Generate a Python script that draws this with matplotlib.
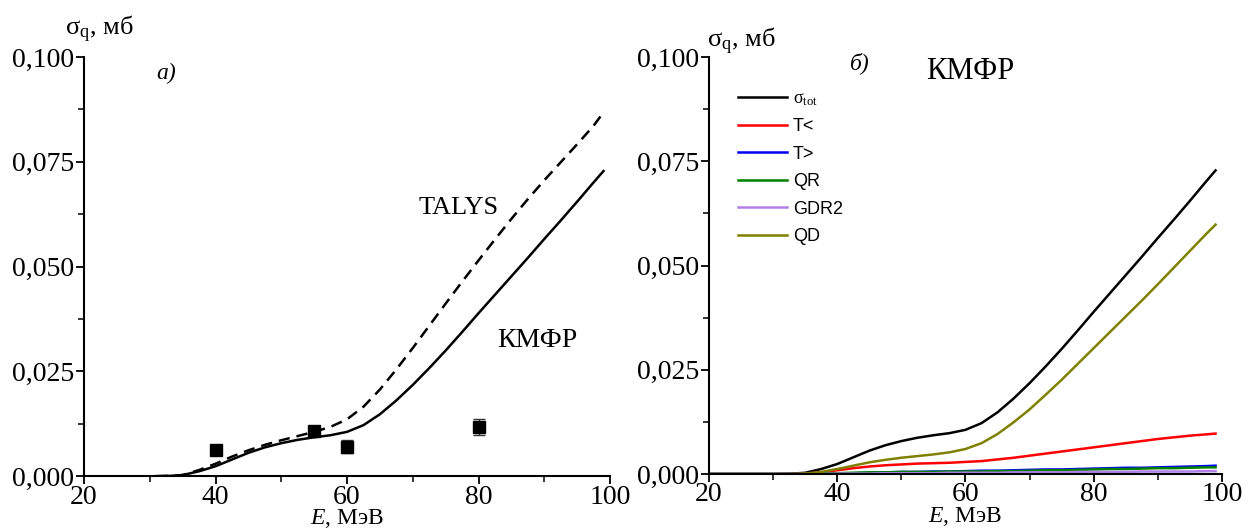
import numpy as np
import matplotlib
matplotlib.use("Agg")
import matplotlib.pyplot as plt
from matplotlib.ticker import MultipleLocator, FuncFormatter

plt.rcParams['font.family'] = ['Liberation Serif', 'DejaVu Serif']
plt.rcParams['mathtext.fontset'] = 'custom'
plt.rcParams['mathtext.rm'] = 'Liberation Serif'
plt.rcParams['mathtext.it'] = 'Liberation Serif:italic'

# energy grid, MeV
energy = [20, 25, 30, 33, 35, 37.5, 40, 42.5, 45, 47.5, 50, 52.5, 55, 57.5, 60, 62.5,
          65, 67.5, 70, 72.5, 75, 77.5, 80, 82.5, 85, 87.5, 90, 92.5, 95, 97.5, 99]

# cross sections, mb
sigma_tot = [0, 0, 0, 0.0001, 0.0003, 0.0012, 0.0024, 0.0040, 0.0056, 0.0069, 0.0079, 0.0087,
             0.0093, 0.0098, 0.0106, 0.0122, 0.0148, 0.0181, 0.0218, 0.0258, 0.0300, 0.0344,
             0.0389, 0.0433, 0.0477, 0.0521, 0.0566, 0.0610, 0.0655, 0.0701, 0.0728]
sigma_talys = [0, 0, 0, 0.0001, 0.0003, 0.0015, 0.0030, 0.0047, 0.0062, 0.0075, 0.0086, 0.0096,
               0.0106, 0.0118, 0.0136, 0.0166, 0.0207, 0.0255, 0.0306, 0.0359, 0.0412, 0.0464,
               0.0515, 0.0565, 0.0614, 0.0661, 0.0706, 0.0749, 0.0792, 0.0836, 0.0868]
t_less = [0, 0, 0, 0, 0.0001, 0.0004, 0.0009, 0.0014, 0.0018, 0.0021, 0.0023, 0.0025,
          0.0026, 0.0027, 0.0029, 0.0031, 0.0035, 0.0039, 0.0044, 0.0049, 0.0054, 0.0059,
          0.0064, 0.0069, 0.0074, 0.0079, 0.0084, 0.0088, 0.0092, 0.0095, 0.0097]
t_more = [0, 0, 0, 0, 0, 0.0001, 0.0001, 0.0002, 0.0003, 0.0004, 0.0005, 0.0005,
          0.0006, 0.0006, 0.0007, 0.0008, 0.0008, 0.0009, 0.0010, 0.0011, 0.0011, 0.0012,
          0.0013, 0.0014, 0.0015, 0.0015, 0.0016, 0.0017, 0.0018, 0.0019, 0.0020]
qr = [0, 0, 0, 0, 0, 0.0001, 0.0002, 0.0003, 0.0004, 0.0004, 0.0005, 0.0005,
      0.0005, 0.0006, 0.0006, 0.0006, 0.0007, 0.0007, 0.0008, 0.0009, 0.0009, 0.0010,
      0.0011, 0.0012, 0.0012, 0.0013, 0.0014, 0.0014, 0.0015, 0.0016, 0.0016]
gdr2 = [0, 0, 0, 0, 0, 0, 0.0001, 0.0001, 0.0001, 0.0002, 0.0002, 0.0002,
        0.0002, 0.0003, 0.0003, 0.0003, 0.0003, 0.0004, 0.0004, 0.0004, 0.0004, 0.0005,
        0.0005, 0.0005, 0.0005, 0.0006, 0.0006, 0.0006, 0.0006, 0.0007, 0.0007]
qd = [0, 0, 0, 0, 0.0001, 0.0005, 0.0012, 0.0020, 0.0028, 0.0034, 0.0039, 0.0043,
      0.0047, 0.0052, 0.0060, 0.0074, 0.0096, 0.0124, 0.0155, 0.0190, 0.0226, 0.0264,
      0.0302, 0.0340, 0.0378, 0.0416, 0.0455, 0.0495, 0.0535, 0.0575, 0.0598]

# experiment
exp_e = [40, 55, 60, 80]
exp_sigma = [0.0062, 0.0109, 0.0071, 0.0118]
exp_err = [0, 0, 0.0015, 0.0019]

fig = plt.figure(figsize=(12.45, 5.31), dpi=100)
ax1 = fig.add_axes([0.0675, 0.103, 0.4225, 0.7897])
ax2 = fig.add_axes([0.5695, 0.1073, 0.412, 0.7854])

comma_fmt = FuncFormatter(lambda v, p: f'{v:.3f}'.replace('.', ','))


def style_axis(ax):
    ax.set_xlim(20, 100)
    ax.set_ylim(0, 0.1)
    ax.spines['top'].set_visible(False)
    ax.spines['right'].set_visible(False)
    for s in ['left', 'bottom']:
        ax.spines[s].set_linewidth(1.5)
    ax.xaxis.set_major_locator(MultipleLocator(20))
    ax.xaxis.set_minor_locator(MultipleLocator(10))
    ax.yaxis.set_major_locator(MultipleLocator(0.025))
    ax.yaxis.set_minor_locator(MultipleLocator(0.0125))
    ax.yaxis.set_major_formatter(comma_fmt)
    ax.tick_params(which='major', direction='out', length=6, width=1.3, labelsize=20, pad=1)
    ax.tick_params(axis='x', which='major', pad=0)
    ax.tick_params(which='minor', direction='out', length=4, width=1.1)
    ax.set_xlabel('$\\mathit{E}$, МэВ', fontsize=17, labelpad=-2)


style_axis(ax1)
ax1.plot(energy, sigma_talys, color='black', lw=1.8, ls=(0, (4.5, 2.8)))
ax1.plot(energy, sigma_tot, color='black', lw=1.8)
ax1.errorbar(exp_e, exp_sigma, yerr=exp_err, fmt='s', color='black', ms=8,
             ecolor='#333333', elinewidth=1, capsize=4)
ax1.text(-0.036, 1.052, 'σ$_\\mathrm{q}$, мб', transform=ax1.transAxes, fontsize=19, va='baseline')
ax1.text(32.5, 0.096, 'a)', fontsize=17, style='italic', ha='center', va='center')
ax1.text(77, 0.064, 'TALYS', fontsize=19, ha='center', va='center')
ax1.text(89, 0.0325, 'КМФР', fontsize=20, ha='center', va='center')

style_axis(ax2)
ax2.plot(energy, sigma_tot, color='black', lw=1.8, label='$\\mathrm{σ}_\\mathrm{tot}$')
ax2.plot(energy, t_less, color='#ff0000', lw=1.8, label='T<')
ax2.plot(energy, t_more, color='#0000ff', lw=1.8, label='T>')
ax2.plot(energy, qr, color='#008000', lw=1.8, label='QR')
ax2.plot(energy, gdr2, color='#b07fe8', lw=1.8, label='GDR2')
ax2.plot(energy, qd, color='#808000', lw=1.8, label='QD')
ax2.legend(loc='upper left', bbox_to_anchor=(0.0565, 0.921), frameon=False,
           prop={'family': 'Liberation Sans', 'size': 13},
           borderpad=0, borderaxespad=0,
           handlelength=2.7, handletextpad=0.33, labelspacing=0.58)
ax2.text(-0.004, 1.024, 'σ$_\\mathrm{q}$, мб', transform=ax2.transAxes, fontsize=19, va='baseline')
ax2.text(43.5, 0.0985, 'б)', fontsize=17, style='italic', ha='center', va='center')
ax2.text(60.7, 0.0965, 'КМФР', fontsize=22, ha='center', va='center')

fig.savefig('out.png', dpi=100)
